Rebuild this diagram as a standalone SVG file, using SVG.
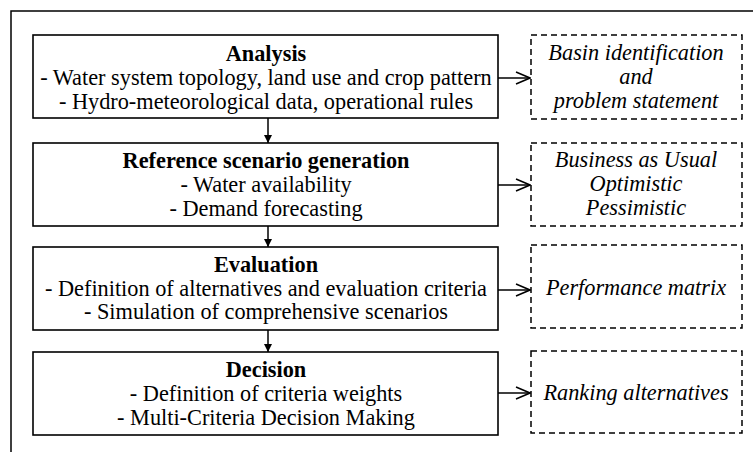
<svg xmlns="http://www.w3.org/2000/svg" width="753" height="452" viewBox="0 0 753 452">
<defs>
<style>
text{font-family:"Liberation Serif","Times New Roman",serif;font-size:22.3px;fill:#000;text-anchor:middle}
.b{font-weight:bold}
.i{font-style:italic}
.box{fill:#fff;stroke:#000;stroke-width:1.6}
.dash{fill:#fff;stroke:#000;stroke-width:1.5;stroke-dasharray:6 4}
.ln{stroke:#000;stroke-width:1.5;fill:none}
</style>
<marker id="fa" viewBox="0 0 10 10" refX="10" refY="5" markerWidth="8" markerHeight="10" markerUnits="userSpaceOnUse" orient="auto"><path d="M0,0 L10,5 L0,10 Z" fill="#000"/></marker>
<marker id="oa" viewBox="0 0 16 14" refX="15" refY="7" markerWidth="16" markerHeight="14" markerUnits="userSpaceOnUse" orient="auto"><path d="M1,1 L15,7 L1,13" fill="none" stroke="#000" stroke-width="1.5"/></marker>
</defs>
<rect width="753" height="452" fill="#fff"/>
<path class="ln" d="M11,452 V11 H753"/>
<g id="connectors">
<line class="ln" x1="268" y1="118" x2="268" y2="143" marker-end="url(#fa)"/>
<line class="ln" x1="268" y1="226" x2="268" y2="247" marker-end="url(#fa)"/>
<line class="ln" x1="268" y1="330" x2="268" y2="352" marker-end="url(#fa)"/>
<line class="ln" x1="498" y1="78" x2="530" y2="78" marker-end="url(#oa)"/>
<line class="ln" x1="498" y1="185" x2="530" y2="185" marker-end="url(#oa)"/>
<line class="ln" x1="498" y1="290" x2="530" y2="290" marker-end="url(#oa)"/>
<line class="ln" x1="498" y1="393" x2="530" y2="393" marker-end="url(#oa)"/>
</g>
<g id="analysis">
<rect class="box" x="33" y="35" width="465" height="83"/>
<text class="b" x="266" y="61">Analysis</text>
<text x="266" y="85">- Water system topology, land use and crop pattern</text>
<text x="266" y="109">- Hydro-meteorological data, operational rules</text>
</g>
<g id="reference">
<rect class="box" x="33" y="143" width="465" height="83"/>
<text class="b" x="266" y="168">Reference scenario generation</text>
<text x="266" y="192">- Water availability</text>
<text x="266" y="216">- Demand forecasting</text>
</g>
<g id="evaluation">
<rect class="box" x="33" y="247" width="465" height="83"/>
<text class="b" x="266" y="272">Evaluation</text>
<text x="266" y="296">- Definition of alternatives and evaluation criteria</text>
<text x="266" y="319">- Simulation of comprehensive scenarios</text>
</g>
<g id="decision">
<rect class="box" x="33" y="352" width="465" height="83"/>
<text class="b" x="266" y="377">Decision</text>
<text x="266" y="401">- Definition of criteria weights</text>
<text x="266" y="425">- Multi-Criteria Decision Making</text>
</g>
<g id="basin">
<rect class="dash" x="531" y="35" width="211" height="84"/>
<text class="i" x="636" y="60">Basin identification</text>
<text class="i" x="636" y="84">and</text>
<text class="i" x="636" y="108">problem statement</text>
</g>
<g id="scenarios">
<rect class="dash" x="531" y="143" width="211" height="83"/>
<text class="i" x="636" y="167">Business as Usual</text>
<text class="i" x="636" y="191">Optimistic</text>
<text class="i" x="636" y="215">Pessimistic</text>
</g>
<g id="performance">
<rect class="dash" x="531" y="245" width="211" height="83"/>
<text class="i" x="636" y="295">Performance matrix</text>
</g>
<g id="ranking">
<rect class="dash" x="531" y="351" width="211" height="82"/>
<text class="i" x="636" y="400">Ranking alternatives</text>
</g>
</svg>
